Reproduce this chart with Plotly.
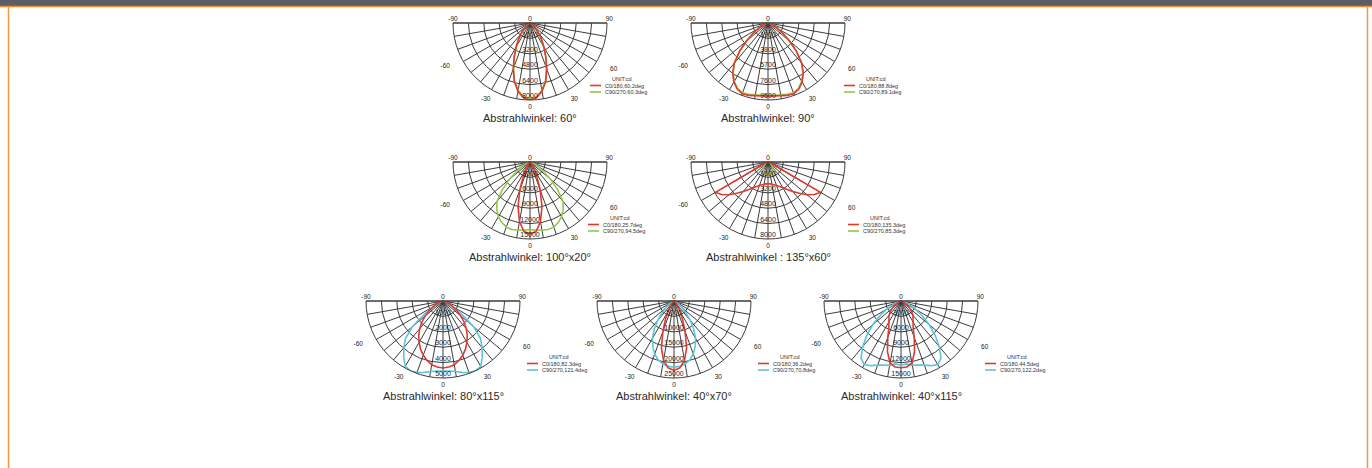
import plotly.graph_objects as go

W, H = 1372, 468
R = 77  # semicircle radius in px

# ---------------- data ----------------
gamma = [0, 5, 10, 15, 20, 25, 30, 35, 40, 45, 50, 55, 60, 65, 70, 75, 80, 85, 90]

captions = [
    "Abstrahlwinkel: 60°",
    "Abstrahlwinkel: 90°",
    "Abstrahlwinkel: 100°x20°",
    "Abstrahlwinkel : 135°x60°",
    "Abstrahlwinkel: 80°x115°",
    "Abstrahlwinkel: 40°x70°",
    "Abstrahlwinkel: 40°x115°",
]
c0_names = ["C0/180,60.2deg", "C0/180,88.8deg", "C0/180,25.7deg", "C0/180,135.3deg",
            "C0/180,82.3deg", "C0/180,36.2deg", "C0/180,44.5deg"]
c90_names = ["C90/270,60.3deg", "C90/270,89.1deg", "C90/270,94.5deg", "C90/270,85.3deg",
             "C90/270,121.4deg", "C90/270,70.8deg", "C90/270,122.2deg"]

ticks_1 = [0, 1600, 3200, 4800, 6400, 8000]
ticks_2 = [0, 1900, 3800, 5700, 7600, 9500]
ticks_3 = [0, 3000, 6000, 9000, 12000, 15000]
ticks_4 = [0, 1600, 3200, 4800, 6400, 8000]
ticks_5 = [0, 1000, 2000, 3000, 4000, 5000]
ticks_6 = [0, 5000, 10000, 15000, 20000, 25000]
ticks_7 = [0, 3000, 6000, 9000, 12000, 15000]

c0_1 = [8000, 7800, 7200, 6300, 5100, 3900, 2900, 2100, 1450, 950, 600, 350, 200, 100, 50, 20, 8, 3, 0]
c90_1 = [7900, 7700, 7100, 6200, 5000, 3850, 2850, 2050, 1400, 920, 580, 330, 190, 95, 45, 18, 7, 2, 0]

c0_2 = [9000, 9050, 9100, 9250, 9300, 9000, 8400, 7600, 6500, 5000, 3500, 2300, 1400, 800, 400, 180, 70, 20, 0]
c90_2 = [8900, 8950, 9000, 9100, 9150, 8900, 8300, 7500, 6400, 4950, 3450, 2250, 1350, 750, 380, 170, 60, 15, 0]

c0_3 = [14000, 13600, 11800, 9000, 5800, 3200, 1600, 800, 450, 300, 220, 170, 130, 100, 80, 60, 40, 20, 0]
c90_3 = [13200, 13300, 13500, 13600, 13500, 13000, 12300, 11300, 10000, 7600, 5200, 3300, 2000, 1200, 700, 400, 200, 80, 0]

c0_4 = [2250, 2280, 2350, 2450, 2600, 2800, 3100, 3500, 4000, 4600, 5300, 5900, 6300, 600, 200, 80, 30, 10, 0]
c90_4 = [1350, 1340, 1300, 1230, 1150, 1050, 950, 850, 750, 650, 550, 420, 300, 200, 120, 60, 25, 8, 0]

c0_5 = [4350, 4300, 4200, 4000, 3750, 3450, 3100, 2750, 2350, 1950, 1500, 1100, 750, 460, 250, 120, 50, 15, 0]
c90_5 = [4550, 4570, 4650, 4800, 4950, 5000, 4900, 4450, 3950, 3450, 2600, 1400, 600, 250, 100, 40, 15, 5, 0]

c0_6 = [22500, 21800, 19600, 15800, 10500, 6600, 4000, 2300, 1300, 750, 420, 240, 130, 70, 35, 18, 8, 3, 0]
c90_6 = [21500, 21300, 20800, 19800, 18300, 16300, 14000, 11200, 8200, 5600, 3500, 2000, 1100, 550, 260, 110, 40, 12, 0]

c0_7 = [13000, 12900, 12300, 10200, 7500, 5600, 4700, 4100, 3600, 3000, 2300, 1600, 900, 450, 200, 80, 30, 10, 0]
c90_7 = [12500, 12300, 12700, 12900, 13300, 13900, 14300, 13600, 11600, 9400, 7200, 5000, 3200, 1900, 1100, 600, 300, 100, 0]

angle_label_vals = [-90, -60, -30, 0, 30, 60, 90]
angle_label_text = ["-90", "-60", "-30", "0", "30", "60", "90"]

# ---------------- layout / styling ----------------
centers = [(530, 23), (768, 23), (530, 162), (768, 162), (443, 301), (674, 301), (901, 301)]
legend_dx = [60, 76, 58, 80, 84, 84, 84]        # swatch start relative to centre
LBL_SCALE = 1.35                                   # label ring subplot size relative to chart
angle_label_rpos = [1.0, 1.2, 1.15, 1.1, 1.15, 1.2, 1.03]
angle_label_tpos = ["top center", "top left", "middle center", "middle center",
                    "middle center", "middle right", "top center"]

ticks_all = [ticks_1, ticks_2, ticks_3, ticks_4, ticks_5, ticks_6, ticks_7]
c0_all = [c0_1, c0_2, c0_3, c0_4, c0_5, c0_6, c0_7]
c90_all = [c90_1, c90_2, c90_3, c90_4, c90_5, c90_6, c90_7]

RED = "#e0392e"
GREEN = "#96c64a"
CYAN = "#5cc5dc"
sec_colors = [GREEN, GREEN, GREEN, GREEN, CYAN, CYAN, CYAN]
GRID = "#3c3c3c"
FONT = "Liberation Sans"


def mirror(vals):
    # C180 half-plane on the negative side, C0 on the positive side
    th = [-g for g in reversed(gamma)] + gamma[1:]
    rr = list(reversed(vals)) + vals[1:]
    return th, rr


def px_domain(cx, ty, rad):
    return dict(x=[(cx - rad) / W, (cx + rad) / W], y=[1 - (ty + rad) / H, 1 - ty / H])


fig = go.Figure()
shapes = []
annotations = []
layout_polars = {}

for i in range(7):
    sub = "polar" if i == 0 else f"polar{i + 1}"
    lsub = f"polar{i + 8}"
    cx, ty = centers[i]
    ticks = ticks_all[i]
    rmax = ticks[-1]

    th, rr = mirror(c90_all[i])
    fig.add_trace(go.Scatterpolar(r=rr, theta=th, mode="lines", subplot=sub,
                                  line=dict(color=sec_colors[i], width=1.6),
                                  showlegend=False, hoverinfo="skip"))
    th, rr = mirror(c0_all[i])
    fig.add_trace(go.Scatterpolar(r=rr, theta=th, mode="lines", subplot=sub,
                                  line=dict(color=RED, width=1.6),
                                  showlegend=False, hoverinfo="skip"))
    # radial value labels along the 0° line
    fig.add_trace(go.Scatterpolar(r=ticks, theta=[0] * len(ticks), mode="text", subplot=sub,
                                  text=[str(t) for t in ticks], textposition="top center",
                                  textfont=dict(size=7, color="#1e1e1e", family=FONT),
                                  cliponaxis=False, showlegend=False, hoverinfo="skip"))
    # angle labels around the rim (on a wider, invisible companion subplot)
    fig.add_trace(go.Scatterpolar(r=[rmax * f for f in angle_label_rpos], theta=angle_label_vals,
                                  mode="text", subplot=lsub, text=angle_label_text,
                                  textposition=angle_label_tpos,
                                  textfont=dict(size=6.5, color="#222", family=FONT),
                                  cliponaxis=False, showlegend=False, hoverinfo="skip"))

    layout_polars[sub] = dict(
        domain=px_domain(cx, ty, R),
        sector=[180, 360],
        bgcolor="white",
        angularaxis=dict(rotation=270, direction="counterclockwise", thetaunit="degrees",
                         tickmode="linear", tick0=0, dtick=10, showticklabels=False,
                         showline=True, linecolor=GRID, linewidth=1,
                         showgrid=True, gridcolor=GRID, gridwidth=0.9, ticks=""),
        radialaxis=dict(range=[0, rmax], tickmode="array", tickvals=ticks,
                        showticklabels=False, showline=False, ticks="",
                        showgrid=True, gridcolor=GRID, gridwidth=0.9),
    )
    layout_polars[lsub] = dict(
        domain=px_domain(cx, ty, R * LBL_SCALE),
        sector=[180, 360],
        bgcolor="rgba(0,0,0,0)",
        angularaxis=dict(rotation=270, direction="counterclockwise", thetaunit="degrees",
                         visible=False),
        radialaxis=dict(range=[0, rmax * LBL_SCALE], visible=False),
    )

    # caption
    annotations.append(dict(x=cx / W, y=1 - (ty + 95) / H, xref="paper", yref="paper",
                            text=captions[i], showarrow=False, xanchor="center", yanchor="middle",
                            font=dict(size=11, color="#2a2a2a", family=FONT)))
    # legend block
    lx = cx + legend_dx[i]
    rows = [ty + 56, ty + 62.5, ty + 69]
    annotations.append(dict(x=(lx + 20) / W, y=1 - rows[0] / H, xref="paper", yref="paper",
                            text="UNIT:cd", showarrow=False, xanchor="left", yanchor="middle",
                            font=dict(size=5.5, color="#333", family=FONT)))
    for name, col, yy in [(c0_names[i], RED, rows[1]), (c90_names[i], sec_colors[i], rows[2])]:
        shapes.append(dict(type="line", xref="paper", yref="paper",
                           x0=lx / W, x1=(lx + 11) / W, y0=1 - yy / H, y1=1 - yy / H,
                           line=dict(color=col, width=1.6)))
        annotations.append(dict(x=(lx + 13) / W, y=1 - yy / H, xref="paper", yref="paper",
                                text=name, showarrow=False, xanchor="left", yanchor="middle",
                                font=dict(size=5.5, color="#333", family=FONT)))

# page frame: dark header bar, orange rule and side rules
shapes.append(dict(type="rect", xref="paper", yref="paper", x0=0, x1=1, y0=1 - 6 / H, y1=1,
                   fillcolor="#5a5e66", line=dict(width=0), layer="above"))
shapes.append(dict(type="line", xref="paper", yref="paper", x0=0, x1=1, y0=1 - 6.5 / H, y1=1 - 6.5 / H,
                   line=dict(color="#ef8b2c", width=1.5)))
shapes.append(dict(type="line", xref="paper", yref="paper", x0=8.5 / W, x1=8.5 / W, y0=0, y1=1 - 6 / H,
                   line=dict(color="#f39a40", width=1.5)))
shapes.append(dict(type="line", xref="paper", yref="paper", x0=1367.5 / W, x1=1367.5 / W, y0=0, y1=1 - 6 / H,
                   line=dict(color="#f39a40", width=1.5)))

fig.update_layout(
    width=W, height=H, autosize=False,
    margin=dict(l=0, r=0, t=0, b=0),
    paper_bgcolor="white", plot_bgcolor="white",
    showlegend=False,
    shapes=shapes, annotations=annotations,
    font=dict(family=FONT),
    **layout_polars,
)

fig.write_html("out.html", config={"displayModeBar": False},
               post_script="document.body.style.margin='0';")
